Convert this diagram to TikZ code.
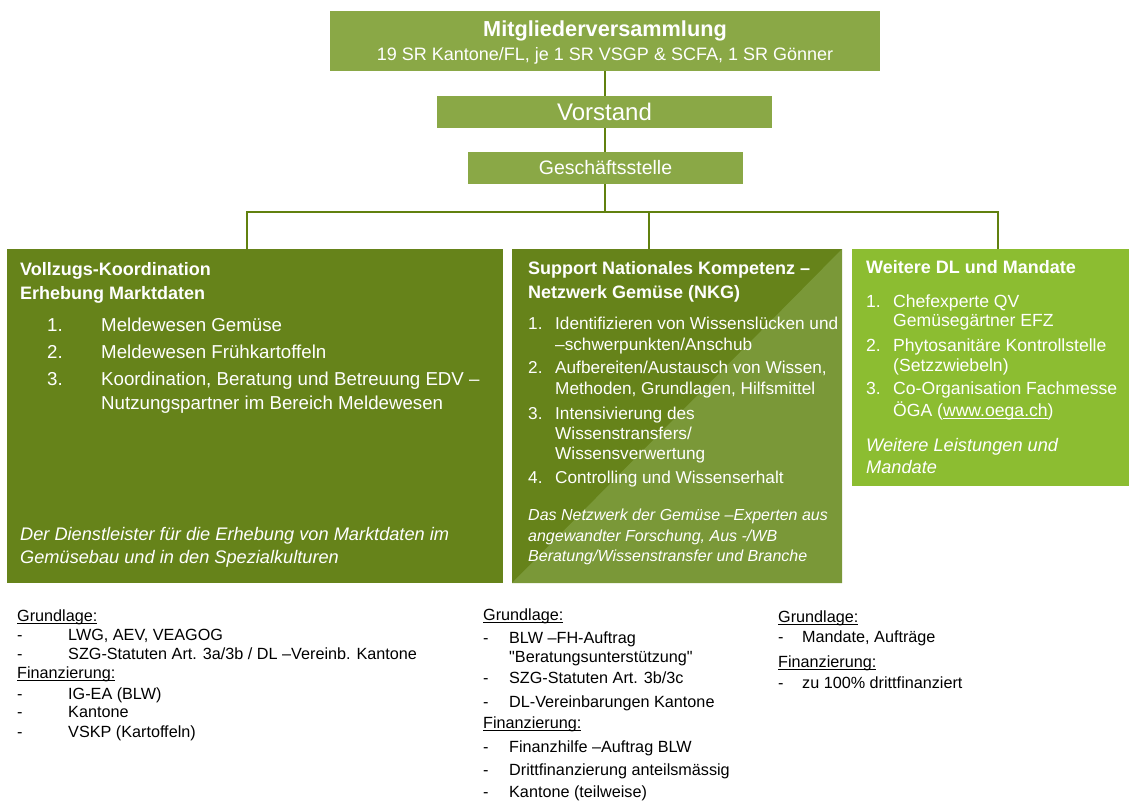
\documentclass[tikz,border=0pt]{standalone}
\usepackage{fontspec}
\setmainfont{Liberation Sans}
\usepackage{xcolor}
\usetikzlibrary{positioning}

\definecolor{topgreen}{HTML}{8AA846}
\definecolor{darkgreen}{HTML}{66831A}
\definecolor{nkglight}{HTML}{7A9838}
\definecolor{dlgreen}{HTML}{8CBD31}
\definecolor{linegreen}{HTML}{61810F}

% underline close to the baseline
\newcommand{\ulline}[1]{\setbox0\hbox{#1}\rlap{\rule[-2.4pt]{\wd0}{0.9pt}}#1}

\tikzset{
  box/.style={inner sep=0pt, outer sep=0pt, anchor=north west},
  txt/.style={inner sep=0pt, anchor=base west, text=white},
  head/.style={txt, font=\fontsize{18}{21}\selectfont\bfseries},
  itemA/.style={txt, font=\fontsize{18.7}{22}\selectfont},
  itemB/.style={txt, font=\fontsize{17.2}{20}\selectfont},
  itemC/.style={txt, font=\fontsize{17.6}{20}\selectfont},
  note/.style={txt, font=\fontsize{18.2}{21}\selectfont\itshape},
  base/.style={inner sep=0pt, anchor=base west, text=black, font=\fontsize{16.2}{19}\selectfont},
  conn/.style={draw=linegreen, line width=2pt}
}

\begin{document}
\begin{tikzpicture}[x=1pt, y=-1pt]
  \useasboundingbox (0,0) rectangle (1129,801);

  % top of the tree
  \node[box, fill=topgreen, minimum width=550, minimum height=60] (mv) at (330,11) {};
  \node[inner sep=0pt, anchor=base, text=white, font=\fontsize{21.7}{25}\selectfont\bfseries] (mvtitle) at (605,36) {Mitgliederversammlung};
  \node[inner sep=0pt, anchor=base, text=white, font=\fontsize{18}{21}\selectfont] (mvsub) at (605,60) {19 SR Kantone/FL, je 1 SR VSGP \& SCFA, 1 SR Gönner};

  \node[box, fill=topgreen, minimum width=335, minimum height=32] (vs) at (437,96) {};
  \node[inner sep=0pt, text=white, font=\fontsize{24}{28}\selectfont] (vstext) at (vs.center) {Vorstand};

  \node[box, fill=topgreen, minimum width=275, minimum height=32] (gs) at (468,152) {};
  \node[inner sep=0pt, text=white, font=\fontsize{19.5}{23}\selectfont] (gstext) at (gs.center) {Geschäftsstelle};

  % the three areas
  \node[box, fill=darkgreen, minimum width=496, minimum height=334] (vk) at (7,249) {};
  \node[box, fill=darkgreen, minimum width=330, minimum height=334] (nkg) at (512,249) {};
  \fill[nkglight] (nkg.south west) -- (nkg.north east) -- (nkg.south east) -- cycle;
  \node[box, fill=dlgreen, minimum width=277, minimum height=237] (dl) at (852,249) {};

  % connectors
  \coordinate (bus) at (605,212);
  \coordinate (busl) at (247,212);
  \coordinate (busm) at (649,212);
  \coordinate (busr) at (998,212);
  \draw[conn] (mv.south -| mvtitle) -- (vs.north -| mvtitle);
  \draw[conn] (vs.south -| mvtitle) -- (gs.north -| mvtitle);
  \draw[conn] (gs.south -| mvtitle) -- (bus);
  \draw[conn] (busl |- vk.north) -- (busl) -- (busr) -- (busr |- dl.north);
  \draw[conn] (busm) -- (busm |- nkg.north);

  % Vollzugs-Koordination
  \node[head] (vkh1) at (20,275) {Vollzugs-Koordination};
  \node[head] (vkh2) at (20,299) {Erhebung Marktdaten};
  \node[itemA] (vk1) at (47,331) {\makebox[54pt][l]{1.}Meldewesen Gemüse};
  \node[itemA] (vk2) at (47,358) {\makebox[54pt][l]{2.}Meldewesen Frühkartoffeln};
  \node[itemA] (vk3) at (47,385) {\makebox[54pt][l]{3.}Koordination, Beratung und Betreuung EDV –};
  \node[itemA] (vk3b) at (101,409) {Nutzungspartner im Bereich Meldewesen};
  \node[note] (vkn1) at (20,540) {Der Dienstleister für die Erhebung von Marktdaten im};
  \node[note] (vkn2) at (20,563) {Gemüsebau und in den Spezialkulturen};

  % Support NKG
  \node[head] (nkgh1) at (528,274) {Support Nationales Kompetenz –};
  \node[head] (nkgh2) at (528,298) {Netzwerk Gemüse (NKG)};
  \node[itemB] (nkg1) at (528,329) {\makebox[27pt][l]{1.}Identifizieren von Wissenslücken und};
  \node[itemB] (nkg1b) at (555,350) {–schwerpunkten/Anschub};
  \node[itemB] (nkg2) at (528,373) {\makebox[27pt][l]{2.}Aufbereiten/Austausch von Wissen,};
  \node[itemB] (nkg2b) at (555,394) {Methoden, Grundlagen, Hilfsmittel};
  \node[itemB] (nkg3) at (528,419) {\makebox[27pt][l]{3.}Intensivierung des};
  \node[itemB] (nkg3b) at (555,439) {Wissenstransfers/};
  \node[itemB] (nkg3c) at (555,459) {Wissensverwertung};
  \node[itemB] (nkg4) at (528,483) {\makebox[27pt][l]{4.}Controlling und Wissenserhalt};
  \node[note, font=\fontsize{16}{19}\selectfont\itshape] (nkgn1) at (528,520) {Das Netzwerk der Gemüse –Experten aus};
  \node[note, font=\fontsize{16}{19}\selectfont\itshape] (nkgn2) at (528,541) {angewandter Forschung, Aus -/WB};
  \node[note, font=\fontsize{16}{19}\selectfont\itshape] (nkgn3) at (528,561) {Beratung/Wissenstransfer und Branche};

  % Weitere DL
  \node[head] (dlh) at (866,273) {Weitere DL und Mandate};
  \node[itemC] (dl1) at (866,307) {\makebox[27pt][l]{1.}Chefexperte QV};
  \node[itemC] (dl1b) at (893,326) {Gemüsegärtner EFZ};
  \node[itemC] (dl2) at (866,351) {\makebox[27pt][l]{2.}Phytosanitäre Kontrollstelle};
  \node[itemC] (dl2b) at (893,371) {(Setzzwiebeln)};
  \node[itemC] (dl3) at (866,394) {\makebox[27pt][l]{3.}Co-Organisation Fachmesse};
  \node[itemC] (dl3b) at (893,416) {ÖGA (\ulline{www.oega.ch})};
  \node[note] (dln1) at (866,451) {Weitere Leistungen und};
  \node[note] (dln2) at (866,473) {Mandate};

  % Grundlagen left
  \node[base] (gl1) at (17,621) {\ulline{Grundlage:}};
  \node[base] (gl2) at (17,640) {\makebox[51pt][l]{-}LWG, AEV, VEAGOG};
  \node[base] (gl3) at (17,659) {\makebox[51pt][l]{-}SZG-Statuten Art. 3a/3b / DL –Vereinb. Kantone};
  \node[base] (gl4) at (17,678) {\ulline{Finanzierung:}};
  \node[base] (gl5) at (17,699) {\makebox[51pt][l]{-}IG-EA (BLW)};
  \node[base] (gl6) at (17,717) {\makebox[51pt][l]{-}Kantone};
  \node[base] (gl7) at (17,737) {\makebox[51pt][l]{-}VSKP (Kartoffeln)};

  % Grundlagen middle
  \node[base] (gm1) at (483,620) {\ulline{Grundlage:}};
  \node[base] (gm2) at (483,643) {\makebox[26pt][l]{-}BLW –FH-Auftrag};
  \node[base] (gm3) at (509,662) {\textquotedbl Beratungsunterstützung\textquotedbl};
  \node[base] (gm4) at (483,683) {\makebox[26pt][l]{-}SZG-Statuten Art. 3b/3c};
  \node[base] (gm5) at (483,707) {\makebox[26pt][l]{-}DL-Vereinbarungen Kantone};
  \node[base] (gm6) at (483,728) {\ulline{Finanzierung:}};
  \node[base] (gm7) at (483,752) {\makebox[26pt][l]{-}Finanzhilfe –Auftrag BLW};
  \node[base] (gm8) at (483,775) {\makebox[26pt][l]{-}Drittfinanzierung anteilsmässig};
  \node[base] (gm9) at (483,797) {\makebox[26pt][l]{-}Kantone (teilweise)};

  % Grundlagen right
  \node[base] (gr1) at (778,622) {\ulline{Grundlage:}};
  \node[base] (gr2) at (778,642) {\makebox[24pt][l]{-}Mandate, Aufträge};
  \node[base] (gr3) at (778,667) {\ulline{Finanzierung:}};
  \node[base] (gr4) at (778,688) {\makebox[24pt][l]{-}zu 100\% drittfinanziert};
\end{tikzpicture}
\end{document}
